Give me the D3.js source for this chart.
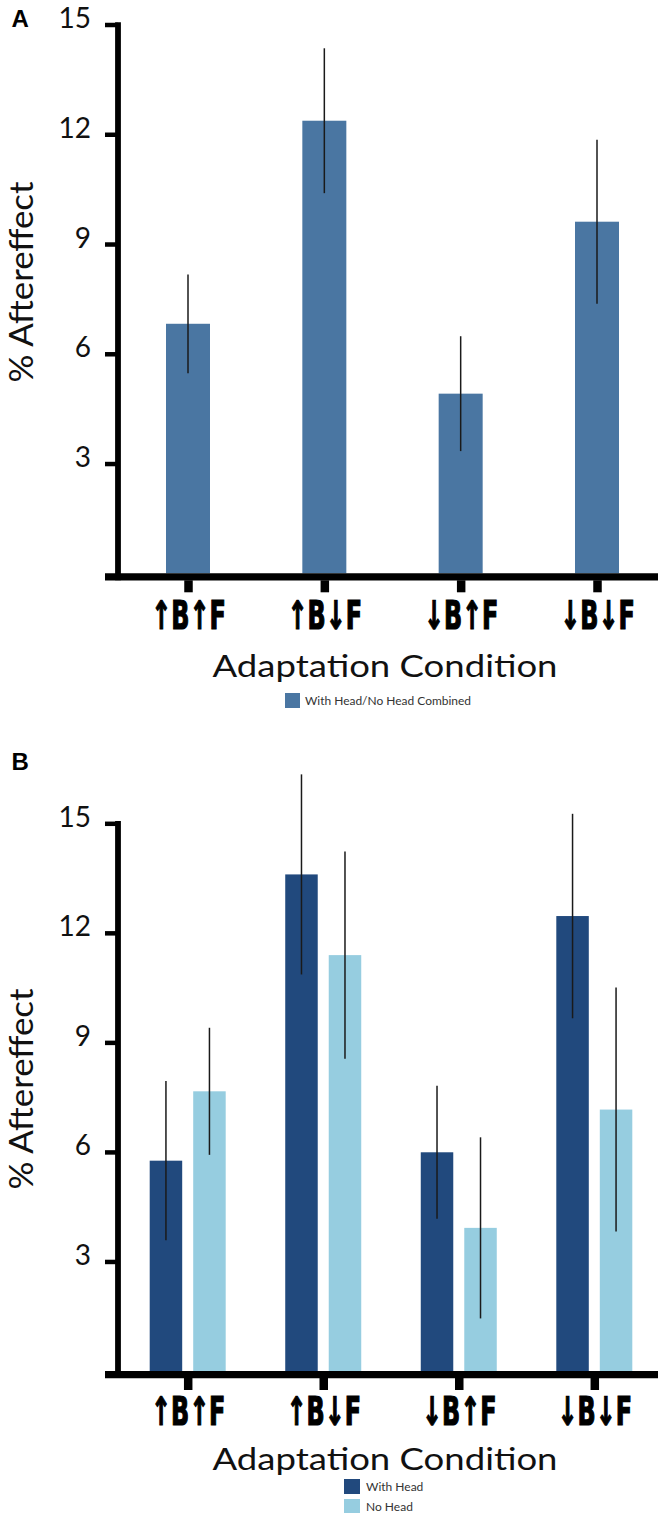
<!DOCTYPE html>
<html>
<head>
<meta charset="utf-8">
<script src="https://cdn.jsdelivr.net/npm/d3@7"></script>
<style>
  html, body { margin: 0; padding: 0; background: #ffffff; }
  svg { display: block; }
</style>
</head>
<body>
<script>
// ---------- data ----------
const categories = ["↑B↑F", "↑B↓F", "↓B↑F", "↓B↓F"];
const yTicks = [3, 6, 9, 12, 15];

// Panel A: With Head / No Head combined
const combinedValues = [6.82, 12.37, 4.91, 9.61];
const combinedErrors = [1.35, 1.98, 1.57, 2.24];

// Panel B
const seriesNames = ["With Head", "No Head"];
const withHeadValues = [5.76, 13.60, 5.99, 12.46];
const withHeadErrors = [2.18, 2.74, 1.82, 2.80];
const noHeadValues = [7.66, 11.39, 3.92, 7.16];
const noHeadErrors = [1.74, 2.84, 2.48, 3.34];

const legendA = "With Head/No Head Combined";
const yTitle = "% Aftereffect";
const xTitle = "Adaptation Condition";

// ---------- styles ----------
const colA = "#4a76a2";
const colDark = "#21497d";
const colLight = "#96cde0";
const thinFont = "Lato, 'Open Sans', 'DejaVu Sans', sans-serif";
const condFont = "'Liberation Sans Narrow', 'DejaVu Sans Condensed', 'Liberation Sans', sans-serif";

const svg = d3.select("body").append("svg")
  .attr("width", 661).attr("height", 1513);

function drawAxes(y, x, opts) {
  // bottom tick marks + category labels
  const gx = svg.append("g")
    .attr("transform", `translate(0,${y(0) + 7})`)
    .call(d3.axisBottom(x).tickSize(12).tickSizeOuter(0));
  gx.select(".domain").remove();
  gx.selectAll(".tick line").attr("stroke", "#000").attr("stroke-width", 8.5);
  gx.selectAll(".tick text")
    .attr("y", opts.labelY).attr("dy", null)
    .attr("transform", "scale(0.68,1)")
    .attr("font-family", condFont).attr("font-weight", "bold")
    .attr("font-size", 39).attr("fill", "#000")
    .attr("stroke", "#000").attr("stroke-width", 1.2);

  // left ticks + labels
  const gy = svg.append("g")
    .attr("transform", "translate(118,0)")
    .call(d3.axisLeft(y).tickValues(yTicks).tickSize(13).tickPadding(14).tickSizeOuter(0));
  gy.select(".domain").remove();
  gy.selectAll(".tick line").attr("stroke", "#000").attr("stroke-width", 4.5);
  gy.selectAll(".tick text")
    .attr("dy", 3)
    .attr("font-family", thinFont).attr("font-size", 28).attr("fill", "#111");

  // thick axis lines
  svg.append("line")
    .attr("x1", 118).attr("x2", 118)
    .attr("y1", y(15) - 2.2).attr("y2", y(0) + 7)
    .attr("stroke", "#000").attr("stroke-width", 5.8);
  svg.append("line")
    .attr("x1", 105).attr("x2", 658)
    .attr("y1", y(0) + 3.6).attr("y2", y(0) + 3.6)
    .attr("stroke", "#000").attr("stroke-width", 7.2);

  // y title
  svg.append("text")
    .attr("transform", `translate(33,${opts.yTitleY}) rotate(-90)`)
    .attr("text-anchor", "middle")
    .attr("font-family", thinFont).attr("font-size", 33).attr("fill", "#111")
    .attr("textLength", 201).attr("lengthAdjust", "spacingAndGlyphs")
    .text(yTitle);

  // x title
  svg.append("text")
    .attr("x", 385).attr("y", opts.xTitleY)
    .attr("text-anchor", "middle")
    .attr("font-family", thinFont).attr("font-size", 30).attr("fill", "#111")
    .attr("textLength", 345).attr("lengthAdjust", "spacingAndGlyphs")
    .text(xTitle);

  // panel letter
  svg.append("text")
    .attr("x", 11.5).attr("y", opts.letterY)
    .attr("font-family", "'Liberation Sans', Arial, sans-serif").attr("font-weight", "bold")
    .attr("font-size", 24).attr("fill", "#000")
    .text(opts.letter);
}

// ================= Panel A =================
const yA = d3.scaleLinear().domain([0, 15]).range([573.3, 24.5]);
const xA = d3.scalePoint().domain(categories).range([188, 597]);
const barWA = 44;

const dataA = categories.map((c, i) => ({ c, v: combinedValues[i], e: combinedErrors[i] }));

svg.append("g").selectAll("rect").data(dataA).join("rect")
  .attr("x", d => xA(d.c) - barWA / 2)
  .attr("width", barWA)
  .attr("y", d => yA(d.v))
  .attr("height", d => yA(0) - yA(d.v))
  .attr("fill", colA);

svg.append("g").selectAll("line").data(dataA).join("line")
  .attr("x1", d => xA(d.c)).attr("x2", d => xA(d.c))
  .attr("y1", d => yA(d.v + d.e)).attr("y2", d => yA(d.v - d.e))
  .attr("stroke", "#1a1a1a").attr("stroke-width", 1.5);

drawAxes(yA, xA, { labelY: 49, yTitleY: 282, xTitleY: 677, letterY: 27, letter: "A" });

// legend A
svg.append("rect").attr("x", 285).attr("y", 693).attr("width", 15).attr("height", 15).attr("fill", colA);
svg.append("text").attr("x", 305).attr("y", 704.5)
  .attr("font-family", thinFont).attr("font-size", 11).attr("fill", "#333")
  .attr("textLength", 166).attr("lengthAdjust", "spacingAndGlyphs")
  .text(legendA);

// ================= Panel B =================
const yB = d3.scaleLinear().domain([0, 15]).range([1371, 823.3]);
const xB = d3.scalePoint().domain(categories).range([187.7, 594.3]);
const xSub = d3.scaleBand().domain(seriesNames).range([-38, 38]).paddingInner(0.253);
const colorB = d3.scaleOrdinal().domain(seriesNames).range([colDark, colLight]);

const dataB = [];
categories.forEach((c, i) => {
  dataB.push({ c, s: seriesNames[0], v: withHeadValues[i], e: withHeadErrors[i] });
  dataB.push({ c, s: seriesNames[1], v: noHeadValues[i], e: noHeadErrors[i] });
});

svg.append("g").selectAll("rect").data(dataB).join("rect")
  .attr("x", d => xB(d.c) + xSub(d.s))
  .attr("width", xSub.bandwidth())
  .attr("y", d => yB(d.v))
  .attr("height", d => yB(0) - yB(d.v))
  .attr("fill", d => colorB(d.s));

svg.append("g").selectAll("line").data(dataB).join("line")
  .attr("x1", d => xB(d.c) + xSub(d.s) + xSub.bandwidth() / 2)
  .attr("x2", d => xB(d.c) + xSub(d.s) + xSub.bandwidth() / 2)
  .attr("y1", d => yB(d.v + d.e)).attr("y2", d => yB(d.v - d.e))
  .attr("stroke", "#1a1a1a").attr("stroke-width", 1.5);

drawAxes(yB, xB, { labelY: 47, yTitleY: 1089, xTitleY: 1470, letterY: 770, letter: "B" });

// legend B
const legB = svg.append("g");
seriesNames.forEach((s, i) => {
  legB.append("rect").attr("x", 344).attr("y", 1479 + i * 20).attr("width", 16).attr("height", 15)
    .attr("fill", colorB(s));
  legB.append("text").attr("x", 366).attr("y", 1491 + i * 20)
    .attr("font-family", thinFont).attr("font-size", 12).attr("fill", "#333")
    .text(s);
});
</script>
</body>
</html>
